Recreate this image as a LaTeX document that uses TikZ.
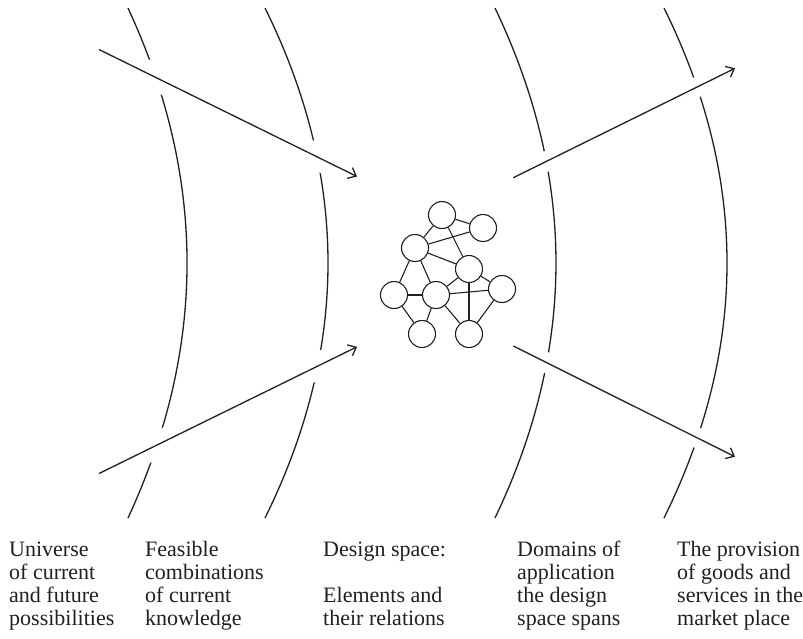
\documentclass[tikz,border=0pt]{standalone}
\usepackage{fontspec}
\setmainfont{Liberation Serif}
\usetikzlibrary{arrows.meta}
\definecolor{ink}{RGB}{35,31,32}
\begin{document}
\begin{tikzpicture}[x=1pt,y=-1pt,
  arcline/.style={draw=ink,line width=1.3pt},
  halo/.style={draw=white,line width=#1},
  flow/.style={draw=ink,line width=1.3pt,-{Straight Barb[length=7pt,width=12pt]}},
  vtx/.style={circle,draw=ink,line width=1.1pt,fill=white,minimum size=27pt,inner sep=0pt},
  link/.style={draw=ink,line width=1.1pt},
  lbl/.style={anchor=base west,align=left,inner sep=0pt,text=ink,font=\fontsize{22}{23}\selectfont}]
\useasboundingbox (0,0) rectangle (803,638);

% arcs
\draw[arcline] (128,8) .. controls (206.7,178) and (206.7,348) .. (128,518);
\draw[arcline] (265,8) .. controls (349,178) and (349,348) .. (265,518);
\draw[arcline] (495,8) .. controls (576.3,178) and (576.3,348) .. (495,518);
\draw[arcline] (664,8) .. controls (748,178) and (748,348) .. (664,518);

% arrow end points
\coordinate (a1s) at (99,49.5);
\coordinate (a1e) at (357,176.5);
\coordinate (a2s) at (99,473.5);
\coordinate (a2e) at (357,346.8);
\coordinate (a3s) at (513.3,177.7);
\coordinate (a3e) at (735,68.3);
\coordinate (a4s) at (513.3,346);
\coordinate (a4e) at (735,456.7);

% gaps where arrows cross the arcs
\draw[halo=26pt] (a1s) -- (a1e);
\draw[halo=26pt] (a2s) -- (a2e);
\draw[halo=20pt] (a3s) -- (a3e);
\draw[halo=20pt] (a4s) -- (a4e);

\draw[flow] (a1s) -- (a1e);
\draw[flow] (a2s) -- (a2e);
\draw[flow] (a3s) -- (a3e);
\draw[flow] (a4s) -- (a4e);

% network
\node[vtx] (A) at (442,215) {};
\node[vtx] (B) at (483,228) {};
\node[vtx] (C) at (415,248) {};
\node[vtx] (D) at (469,269) {};
\node[vtx] (E) at (394,295) {};
\node[vtx] (F) at (436,295) {};
\node[vtx] (G) at (502,289) {};
\node[vtx] (H) at (422,334) {};
\node[vtx] (I) at (469,334) {};
\foreach \u/\v in {A/B,A/C,A/D,C/B,C/D,C/E,C/F,E/F,E/H,F/H,F/D,F/G,F/I,D/G,D/I,G/I}
  \draw[link] (\u) -- (\v);

% labels (base anchor = baseline of the last line)
\node[lbl] (t1) at (9,625.7) {Universe\\of current\\and future\\possibilities};
\node[lbl] (t2) at (145,625.7) {Feasible\\combinations\\of current\\knowledge};
\node[lbl] (t3) at (323,625.7) {Design space:\\\mbox{}\\Elements and\\their relations};
\node[lbl] (t4) at (517,625.7) {Domains of\\application\\the design\\space spans};
\node[lbl] (t5) at (677,625.7) {The provision\\of goods and\\services in the\\market place};
\end{tikzpicture}
\end{document}
